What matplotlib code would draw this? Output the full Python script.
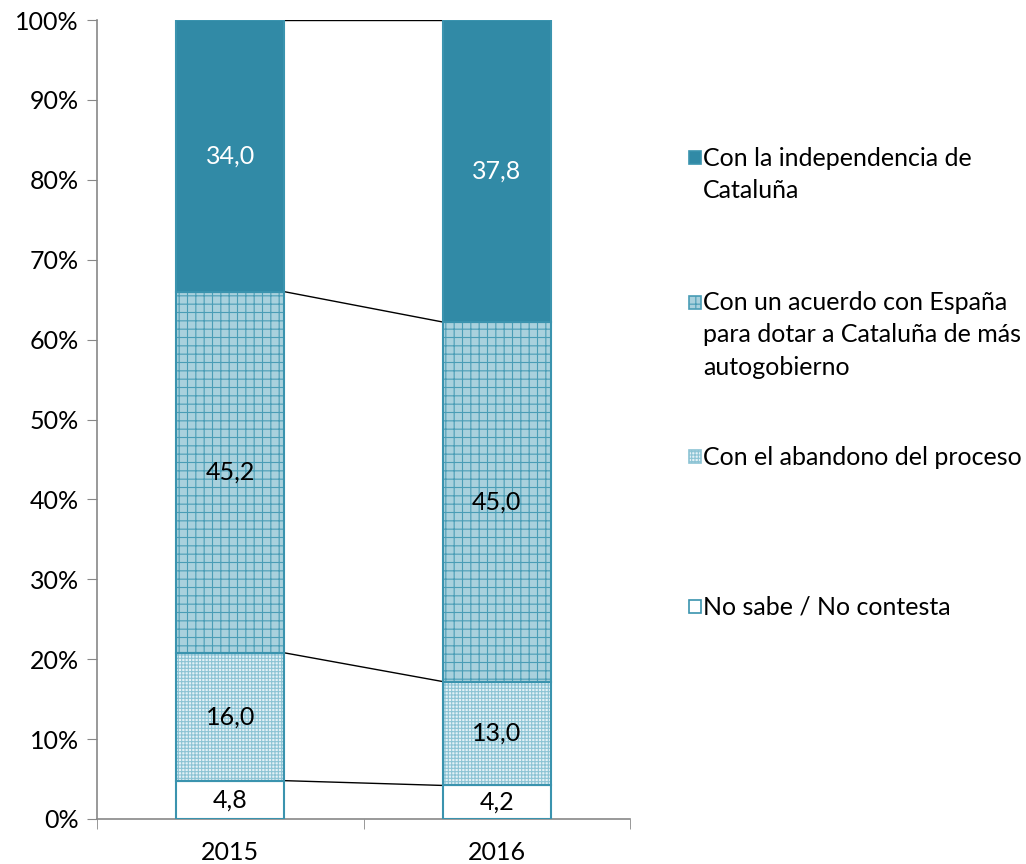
import numpy as np
import matplotlib.pyplot as plt
from matplotlib.patches import Rectangle

plt.rcParams.update({
    'font.family': ['Lato', 'DejaVu Sans'],
    'font.size': 18,
    'hatch.linewidth': 0.8,
})

years = ['2015', '2016']
no_sabe = [4.8, 4.2]
abandono = [16.0, 13.0]
acuerdo = [45.2, 45.0]
independencia = [34.0, 37.8]

series = [no_sabe, abandono, acuerdo, independencia]
labels = [['No sabe / No contesta'], ['Con el abandono del proceso'],
          ['Con un acuerdo con España', 'para dotar a Cataluña de más', 'autogobierno'],
          ['Con la independencia de', 'Cataluña']]

edge = '#3A93AE'
styles = [
    dict(face='white', hatch=None, hcol=edge, txt='black'),
    dict(face='#E3F1F6', hatch='+++++', hcol='#8CC3D4', txt='black'),
    dict(face='#A9D1DD', hatch='++', hcol='#4A9DB6', txt='black'),
    dict(face='#318AA6', hatch=None, hcol=edge, txt='white'),
]

fig = plt.figure(figsize=(10.26, 8.64), dpi=100)
ax = fig.add_axes([97 / 1026, 1 - 819 / 864, 533 / 1026, 799 / 864])

x = np.arange(len(years))
width = 0.405
bottom = np.zeros(len(years))
for vals, st in zip(series, styles):
    vals = np.array(vals)
    if st['hatch']:
        ax.bar(x, vals, width, bottom=bottom, color=st['face'], hatch=st['hatch'],
               edgecolor=st['hcol'], linewidth=0, zorder=2)
    else:
        ax.bar(x, vals, width, bottom=bottom, color=st['face'], linewidth=0, zorder=2)
    ax.bar(x, vals, width, bottom=bottom, fill=False, edgecolor=edge, linewidth=1.5, zorder=3)
    for xi, b, v in zip(x, bottom, vals):
        ax.text(xi, b + v / 2, f'{v:.1f}'.replace('.', ','), ha='center', va='center',
                color=st['txt'], fontsize=18, zorder=4)
    bottom = bottom + vals
    # connector lines between bars
    ax.plot([x[0] + width / 2, x[1] - width / 2], [bottom[0], bottom[1]],
            color='black', linewidth=1, zorder=1)

ax.set_xlim(-0.5, 1.5)
ax.set_ylim(0, 100)
ax.set_yticks(np.arange(0, 101, 10))
ax.set_yticklabels([f'{t}%' for t in range(0, 101, 10)])
ax.set_xticks(x)
ax.set_xticklabels(years)
ax.set_xticks([-0.5, 0.5, 1.5], minor=True)
ax.tick_params(axis='x', which='major', length=0, pad=16)
ax.tick_params(axis='x', which='minor', length=7, color='#888888', direction='out')
ax.tick_params(axis='y', length=7, color='#888888', direction='out', pad=6)
for s in ['top', 'right']:
    ax.spines[s].set_visible(False)
for s in ['left', 'bottom']:
    ax.spines[s].set_color('#888888')
    ax.spines[s].set_linewidth(1.2)

# legend, drawn by hand
leg_y = [158, 303, 457, 607]
order = [3, 2, 1, 0]
for y, i in zip(leg_y, order):
    st = styles[i]
    r = Rectangle((689 / 1026, 1 - (y + 6) / 864), 12 / 1026, 13 / 864, transform=fig.transFigure,
                  facecolor=st['face'], edgecolor=edge if st['hatch'] is None else st['hcol'],
                  hatch=st['hatch'], linewidth=1.2)
    fig.patches.append(r)
    for k, line in enumerate(labels[i]):
        fig.text(703 / 1026, 1 - (y + 32 * k) / 864, line, ha='left', va='center',
                 fontsize=18)

fig.savefig('out.png', dpi=100)
